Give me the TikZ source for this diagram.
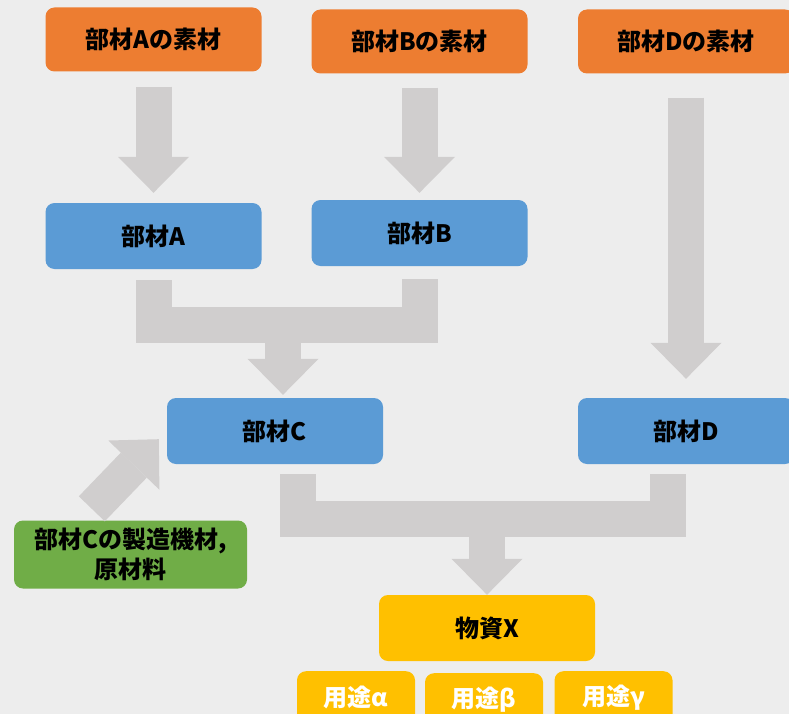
\documentclass[tikz,border=0pt]{standalone}
\usepackage{fontspec}
\setmainfont{Noto Sans CJK JP}
\usepackage{xcolor}
\usepackage{tikz}
\usetikzlibrary{shapes,arrows.meta,positioning,calc}

\definecolor{bgcol}{HTML}{EDEDED}
\definecolor{arrowgray}{HTML}{D0CECE}
\definecolor{sozai}{HTML}{ED7D31}
\definecolor{buzai}{HTML}{5B9BD5}
\definecolor{kizai}{HTML}{70AD47}
\definecolor{busshi}{HTML}{FFC000}

\begin{document}
\begin{tikzpicture}[
			x=1pt, y=-1pt,
			box/.style={rectangle, rounded corners=9pt, inner sep=0pt, minimum width=216pt, minimum height=66pt, text centered, font=\bfseries\fontsize{24}{30}\selectfont},
			material/.style={box, fill=sozai, minimum height=64pt},
			part/.style={box, fill=buzai},
			tool/.style={box, fill=kizai, minimum width=233pt, minimum height=68pt, align=center},
			product/.style={box, fill=busshi},
			usage/.style={box, fill=busshi, text=white, minimum width=118pt, minimum height=52pt, anchor=north},
			arrow/.style={draw=arrowgray, line width=36pt, -{Triangle[length=36pt, width=71pt, line width=0pt]}},
			bar/.style={draw=arrowgray, line width=36pt, line join=miter}
			]
			
			\useasboundingbox (0,0) rectangle (789,714);
			\fill[bgcol] (0,0) rectangle (789,714);
			
			% ノード定義
			\node (As) [material] at (153.5,39.5) {部材Aの素材};
			\node (Bs) [material] at (419.5,41.5) {部材Bの素材};
			\node (Ds) [material] at (686,41.5) {部材Dの素材};
			\node (A) [part] at (153.5,236) {部材A};
			\node (B) [part] at (419.5,233) {部材B};
			\node (C) [part] at (275,431) {部材C};
			\node (D) [part] at (686,431) {部材D};
			\node (G) [tool] at (130.5,554.5) {部材Cの製造機材,\\原材料};
			\node (X) [product] at (487,628) {物資X};
			\node (Ua) [usage] at (356,671) {用途α};
			\node (Ub) [usage] at (484,673) {用途β};
			\node (Ug) [usage] at (613.5,671) {用途γ};
			
			% 矢印
			\draw [arrow, shorten <=15pt, shorten >=10pt] (As) -- (A);
			\draw [arrow, shorten <=14pt, shorten >=7pt] (Bs) -- (B);
			\draw [arrow, shorten <=24pt, shorten >=19pt] (Ds) -- (D);
			
			\draw [bar] ($(A.south)+(0,11)$) -- ++(0,45) -| ($(B.south)+(0,13)$);
			\draw [arrow] ($(C.north)+(8,-73)$) -- ($(C.north)+(8,-3)$);
			
			\draw [bar] ($(C.south)+(23,10)$) -- ++(0,44.5) -| ($(D.south)+(-18,10)$);
			\draw [arrow] ($(X.north)+(0,-77)$) -- (X.north);
			
			\draw [arrow] ($(G.north west)+(78,-11.5)$) -- ($(C.south west)+(-8,-25)$);
			
		\end{tikzpicture}
\end{document}
